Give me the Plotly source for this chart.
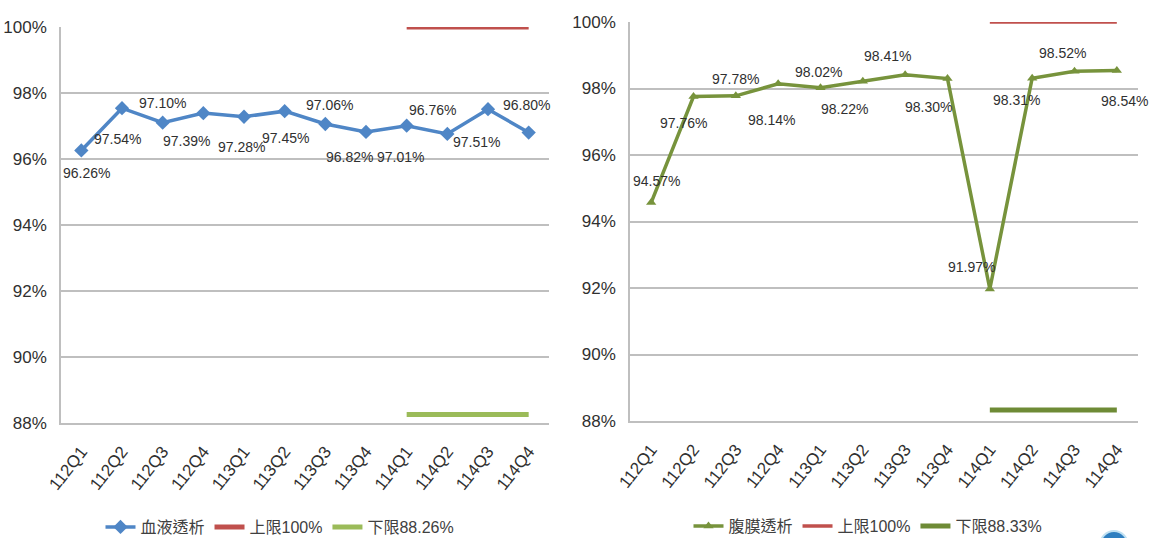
import plotly.graph_objects as go

# Quarter categories shared by both panels
quarters = ["112Q1", "112Q2", "112Q3", "112Q4", "113Q1", "113Q2",
            "113Q3", "113Q4", "114Q1", "114Q2", "114Q3", "114Q4"]

# Hemodialysis rates (%)
hd_values = [96.26, 97.54, 97.10, 97.39, 97.28, 97.45,
             97.06, 96.82, 97.01, 96.76, 97.51, 96.80]
hd_upper = [None] * 8 + [100, 100, 100, 100]
hd_lower = [None] * 8 + [88.26, 88.26, 88.26, 88.26]

# Peritoneal dialysis rates (%)
pd_values = [94.57, 97.76, 97.78, 98.14, 98.02, 98.22,
             98.41, 98.30, 91.97, 98.31, 98.52, 98.54]
pd_upper = [None] * 8 + [100, 100, 100, 100]
pd_lower = [None] * 8 + [88.33, 88.33, 88.33, 88.33]

y_ticks = [88, 90, 92, 94, 96, 98, 100]
y_tick_text = ["88%", "90%", "92%", "94%", "96%", "98%", "100%"]

# Pixel offsets (dx, dy-down) of each data label from its point
hd_label_offsets = [(5, 23), (-5, 31), (0, -20), (-17, 28), (-3, 30), (1, 27),
                    (4, -19), (-17, 25), (-6, 31), (-15, -24), (-12, 33), (-2, -28)]
pd_label_offsets = [(5, -22), (-10, 27), (0, -17), (-7, 36), (-2, -16), (-18, 28),
                    (-18, -19), (-19, 28), (-18, -22), (-16, 22), (-12, -18), (8, 30)]

FONT = "Liberation Sans, Arial, Noto Sans CJK TC, sans-serif"
TEXT = "#303030"
GRID = "#BFBFBF"

fig = go.Figure()

# Left panel: hemodialysis
fig.add_trace(go.Scatter(
    x=quarters, y=hd_values, name="血液透析", mode="lines+markers",
    line=dict(color="#4F86C6", width=3.5),
    marker=dict(symbol="diamond", size=11, color="#4F86C6"),
    xaxis="x", yaxis="y", legend="legend"))
fig.add_trace(go.Scatter(
    x=quarters, y=hd_upper, name="上限100%", mode="lines",
    line=dict(color="#C0504D", width=5), cliponaxis=False,
    xaxis="x", yaxis="y", legend="legend"))
fig.add_trace(go.Scatter(
    x=quarters, y=hd_lower, name="下限88.26%", mode="lines",
    line=dict(color="#9BBB59", width=5), cliponaxis=False,
    xaxis="x", yaxis="y", legend="legend"))

# Right panel: peritoneal dialysis
fig.add_trace(go.Scatter(
    x=quarters, y=pd_values, name="腹膜透析", mode="lines+markers",
    line=dict(color="#77933C", width=3.5),
    marker=dict(symbol="triangle-up", size=9, color="#77933C"),
    xaxis="x2", yaxis="y2", legend="legend2"))
fig.add_trace(go.Scatter(
    x=quarters, y=pd_upper, name="上限100%", mode="lines",
    line=dict(color="#C0504D", width=3.5), cliponaxis=False,
    xaxis="x2", yaxis="y2", legend="legend2"))
fig.add_trace(go.Scatter(
    x=quarters, y=pd_lower, name="下限88.33%", mode="lines",
    line=dict(color="#6E8B36", width=5), cliponaxis=False,
    xaxis="x2", yaxis="y2", legend="legend2"))

annotations = []
for q, v, (dx, dy) in zip(quarters, hd_values, hd_label_offsets):
    annotations.append(dict(x=q, y=v, xref="x", yref="y", text=f"{v:.2f}%",
                            showarrow=False, xshift=dx, yshift=-dy,
                            font=dict(family=FONT, size=14, color=TEXT)))
for q, v, (dx, dy) in zip(quarters, pd_values, pd_label_offsets):
    annotations.append(dict(x=q, y=v, xref="x2", yref="y2", text=f"{v:.2f}%",
                            showarrow=False, xshift=dx, yshift=-dy,
                            font=dict(family=FONT, size=14, color=TEXT)))

W, H = 1156, 538


def xdom(a, b):
    return [a / W, b / W]


def ydom(top, bottom):
    return [1 - bottom / H, 1 - top / H]


xaxis_style = dict(
    type="category", range=[-0.5, 11.5], showgrid=False, zeroline=False,
    showline=True, linecolor=GRID, linewidth=2, ticks="", tickangle=-52,
    ticklabelstandoff=10,
    tickfont=dict(family=FONT, size=17, color=TEXT))
yaxis_style = dict(
    range=[88, 100], tickvals=y_ticks, ticktext=y_tick_text, showgrid=True,
    gridcolor=GRID, gridwidth=2, zeroline=False, showline=True,
    linecolor=GRID, linewidth=1.5, ticks="", ticklabelstandoff=9,
    tickfont=dict(family=FONT, size=17, color=TEXT))

legend_style = dict(orientation="h", yanchor="middle", xanchor="center",
                    font=dict(family=FONT, size=16, color="#404040"),
                    bgcolor="rgba(0,0,0,0)", itemwidth=30)

fig.update_layout(
    width=W, height=H,
    margin=dict(l=0, r=0, t=0, b=0, autoexpand=False),
    paper_bgcolor="white", plot_bgcolor="white",
    xaxis=dict(domain=xdom(61, 549), anchor="y", **xaxis_style),
    yaxis=dict(domain=ydom(27, 423), anchor="x", **yaxis_style),
    xaxis2=dict(domain=xdom(630, 1138), anchor="y2", **xaxis_style),
    yaxis2=dict(domain=ydom(22, 421), anchor="x2", **yaxis_style),
    legend=dict(x=280 / W, y=1 - 527 / H, **legend_style),
    legend2=dict(x=868 / W, y=1 - 526 / H, **legend_style),
    annotations=annotations,
    shapes=[dict(type="circle", xref="paper", yref="paper",
                 x0=1100 / W, x1=1128 / W, y0=1 - 560 / H, y1=1 - 531 / H,
                 fillcolor="#2F7FC0", line=dict(color="#BFE0F2", width=2))],
)

fig.write_html("out.html")
